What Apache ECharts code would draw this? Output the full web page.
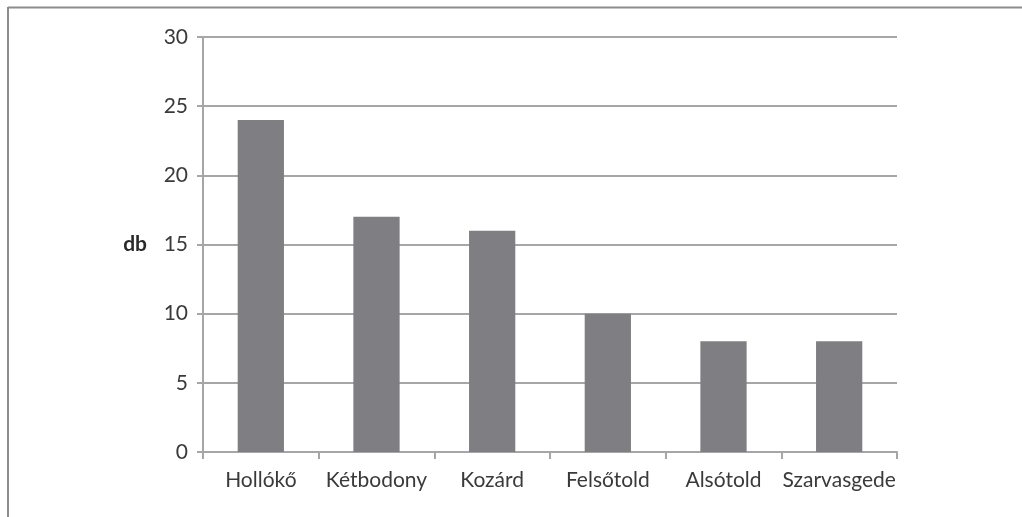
<!DOCTYPE html>
<html>
<head>
<meta charset="utf-8">
<script src="https://cdn.jsdelivr.net/npm/echarts@6/dist/echarts.min.js"></script>
<style>
html,body{margin:0;padding:0;background:#fff;}
#c{width:1022px;height:517px;}
</style>
</head>
<body>
<div id="c"></div>
<script>
const categories = ['Hollókő', 'Kétbodony', 'Kozárd', 'Felsőtold', 'Alsótold', 'Szarvasgede'];
const values = [24, 17, 16, 10, 8, 8];
const yTicks = { min: 0, max: 30, interval: 5 };
const yName = 'db';

const chart = echarts.init(document.getElementById('c'), null, { renderer: 'canvas' });
const axisGray = '#a6a6a6';
const textColor = '#3a3a3a';
const font = 'Lato, "Open Sans", sans-serif';
chart.setOption({
  animation: false,
  backgroundColor: '#ffffff',
  grid: { left: 203, right: 125, top: 37, bottom: 65, containLabel: false },
  graphic: [
    { type: 'line', shape: { x1: 8, y1: 7.5, x2: 1022, y2: 7.5 }, style: { stroke: '#8c8c8c', lineWidth: 2 } },
    { type: 'line', shape: { x1: 8, y1: 7, x2: 8, y2: 517 }, style: { stroke: '#8c8c8c', lineWidth: 2 } }
  ],
  xAxis: {
    type: 'category',
    data: categories,
    axisLine: { show: true, lineStyle: { color: axisGray, width: 2 } },
    axisTick: { show: true, alignWithLabel: false, length: 7, lineStyle: { color: axisGray, width: 2 } },
    axisLabel: { color: textColor, fontSize: 21, fontFamily: font, margin: 18, interval: 0 },
    splitLine: { show: false }
  },
  yAxis: {
    type: 'value',
    min: yTicks.min, max: yTicks.max, interval: yTicks.interval,
    name: yName,
    nameLocation: 'middle',
    nameRotate: 0,
    nameGap: 56,
    nameTextStyle: { color: '#2a2a2a', fontSize: 21, fontWeight: 'bold', fontFamily: font, align: 'right' },
    axisLine: { show: true, lineStyle: { color: axisGray, width: 2 } },
    axisTick: { show: true, length: 6, lineStyle: { color: axisGray, width: 2 } },
    axisLabel: { color: textColor, fontSize: 21, fontFamily: font, margin: 15 },
    splitLine: { show: true, lineStyle: { color: axisGray, width: 2 } }
  },
  series: [{
    type: 'bar',
    data: values,
    barCategoryGap: '60%',
    itemStyle: { color: '#7f7f83' }
  }]
});
</script>
</body>
</html>
